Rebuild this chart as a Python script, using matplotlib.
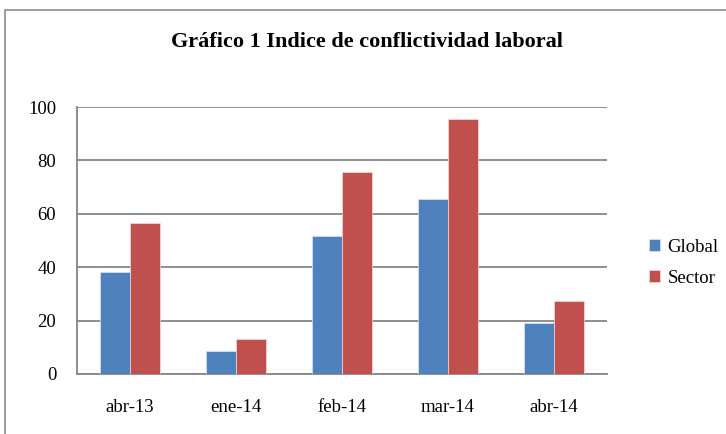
import numpy as np
import matplotlib.pyplot as plt
from matplotlib.patches import Rectangle

plt.rcParams['font.family'] = ['Liberation Serif', 'DejaVu Serif']

# datos
meses = ['abr-13', 'ene-14', 'feb-14', 'mar-14', 'abr-14']
global_vals = [38.3, 8.6, 51.8, 65.5, 19.0]
sector_vals = [56.4, 13.1, 75.8, 95.6, 27.3]

fig = plt.figure(figsize=(7.26, 4.34), dpi=100)
W, H = 726, 434
# marco del grafico (cortado a la derecha y abajo)
fig.patches.append(Rectangle((5 / W, -0.1), 1.2, 1 - 10 / H + 0.1, transform=fig.transFigure,
                             fill=False, edgecolor='#8c8c8c', linewidth=1.2))

ax = fig.add_axes([77 / W, 1 - 374 / H, 530 / W, 267 / H])
x = np.arange(len(meses))
w = 0.285
ax.bar(x - w / 2, global_vals, width=w, color='#4F81BD', edgecolor='#dce6f2', linewidth=0.5, label='Global', zorder=3)
ax.bar(x + w / 2, sector_vals, width=w, color='#C0504D', edgecolor='#f2dcdb', linewidth=0.5, label='Sector', zorder=3)

ax.set_xlim(-0.5, len(meses) - 0.5)
ax.set_ylim(0, 100)
ax.set_yticks(range(0, 101, 20))
ax.set_xticks(x)
ax.set_xticklabels(meses)
ax.tick_params(length=0, labelsize=13.5, colors='black')
ax.tick_params(axis='y', pad=15)
ax.tick_params(axis='x', pad=18)
ax.yaxis.grid(True, color='#868686', linewidth=1.3, zorder=0)
for s in ['top', 'right']:
    ax.spines[s].set_visible(False)
for s in ['left', 'bottom']:
    ax.spines[s].set_color('#868686')
    ax.spines[s].set_linewidth(1.3)

fig.text(367 / W, 1 - 42 / H, 'Gráfico 1 Indice de conflictividad laboral', ha='center', va='center',
         fontsize=16, fontweight='bold')

ax.legend(loc='center left', bbox_to_anchor=(632 / W, 1 - 263 / H), bbox_transform=fig.transFigure,
          frameon=False, fontsize=13.5, handlelength=0.6, handleheight=0.6, handletextpad=0.4,
          labelspacing=0.75)

fig.savefig('out.png', dpi=100)
